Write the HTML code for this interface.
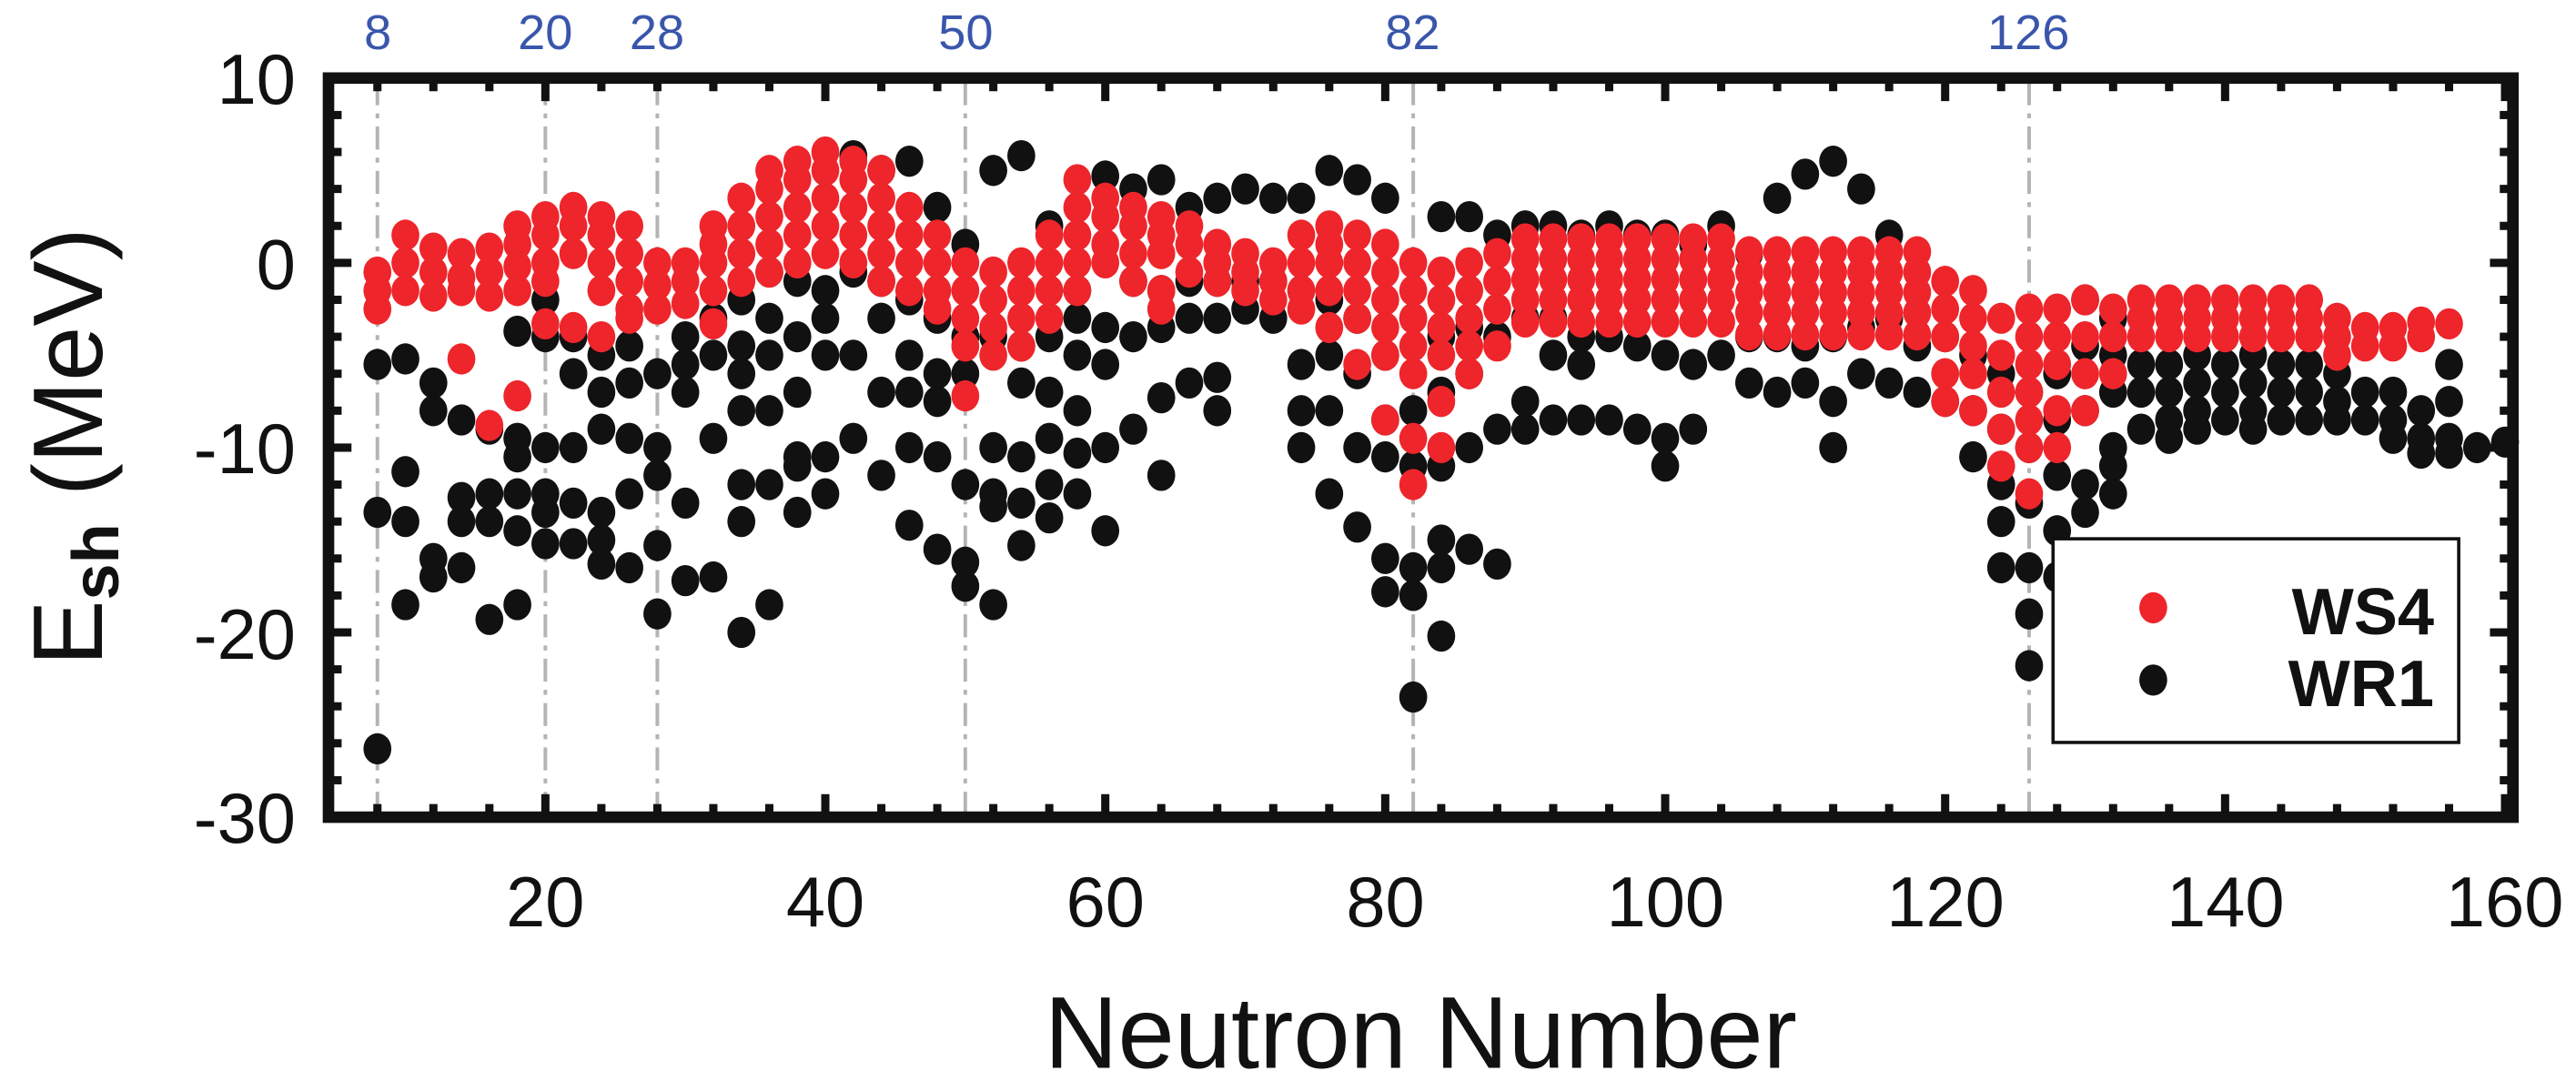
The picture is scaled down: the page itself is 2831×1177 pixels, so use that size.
<!DOCTYPE html>
<html><head><meta charset="utf-8"><style>
html,body{margin:0;padding:0;background:#fff;}
svg{display:block;}
text{font-family:"Liberation Sans",Arial,sans-serif;}
</style></head><body>
<svg id="s" width="2831" height="1177" viewBox="0 0 1568.4 652" xmlns="http://www.w3.org/2000/svg">
<rect width="1568.4" height="652" fill="#fff"/>
<g id="grid" stroke="#b4b4b4" stroke-width="2.2" stroke-dasharray="14,5,3,5"></g>
<g id="blk" fill="#111"></g>
<g id="red" fill="#ee252b"></g>
<g id="ticks" stroke="#111" stroke-width="5"></g>
<rect x="200" y="47.5" width="1330" height="450" fill="none" stroke="#111" stroke-width="7"/>
<g font-size="43" fill="#111" text-anchor="end">
<text x="180" y="63">10</text><text x="180" y="176">0</text><text x="180" y="288">-10</text><text x="180" y="401">-20</text><text x="180" y="513">-30</text>
</g>
<g font-size="43" fill="#111" text-anchor="middle">
<text x="332" y="564">20</text><text x="502.5" y="564">40</text><text x="673" y="564">60</text><text x="843.5" y="564">80</text><text x="1014" y="564">100</text><text x="1184.5" y="564">120</text><text x="1355" y="564">140</text><text x="1525" y="564">160</text>
</g>
<g font-size="30" fill="#3a56ab" text-anchor="middle">
<text x="230" y="30">8</text><text x="332" y="30">20</text><text x="400" y="30">28</text><text x="588" y="30">50</text><text x="860" y="30">82</text><text x="1235" y="30">126</text>
</g>
<text x="865" y="650" font-size="62" fill="#111" text-anchor="middle">Neutron Number</text>
<text transform="translate(62,272) rotate(-90)" font-size="60" fill="#111" text-anchor="middle">E<tspan font-size="40" dy="10" font-weight="bold">sh</tspan><tspan dy="-10"> (MeV)</tspan></text>
<rect x="1250" y="328" width="247" height="124" fill="#fff" stroke="#111" stroke-width="2"/>
<ellipse cx="1311" cy="370" rx="8.5" ry="9.5" fill="#ee252b"/>
<ellipse cx="1311" cy="414" rx="8.5" ry="9.5" fill="#111"/>
<text x="1482" y="386" font-size="40" font-weight="bold" fill="#111" text-anchor="end">WS4</text>
<text x="1482" y="430" font-size="40" font-weight="bold" fill="#111" text-anchor="end">WR1</text>
</svg>
<script>
var NS="http://www.w3.org/2000/svg";
function X(n){return 161.6+n*8.5225;}
function Y(v){return 160-v*11.25;}
function el(g,t,a){var e=document.createElementNS(NS,t);for(var k in a)e.setAttribute(k,a[k]);document.getElementById(g).appendChild(e);}
[8,20,28,50,82,126].forEach(function(n){el("grid","line",{x1:X(n),x2:X(n),y1:50,y2:495});});
for(var n=8;n<=160;n+=4){var L=(n%20==0)?14:8;el("ticks","line",{x1:X(n),x2:X(n),y1:497.5,y2:497.5-L});el("ticks","line",{x1:X(n),x2:X(n),y1:47.5,y2:47.5+L});}
for(var v=-28;v<=8;v+=2){var L=(v%10==0)?14:8;el("ticks","line",{x1:200,x2:200+L,y1:Y(v),y2:Y(v)});el("ticks","line",{x1:1530,x2:1530-L,y1:Y(v),y2:Y(v)});}
var B={8:[-5.5,-13.5,-26.3],10:[-5.2,-11.3,-14,-18.5],12:[-6.5,-8,-16,-17],14:[-8.5,-12.7,-14,-16.5],16:[-9,-12.5,-14,-19.3],18:[-3.7,-9.5,-10.5,-12.5,-14.5,-18.5],20:[-2,-4,-10,-12.5,-13.5,-15.2],22:[-4,-6,-10,-13,-15.2],24:[-5,-7,-9,-13.5,-15,-16.3],26:[-4.5,-6.5,-9.5,-12.5,-16.5],28:[-6,-10,-11.5,-15.3,-19],30:[-4,-5.5,-7,-13,-17.2],32:[-3,-5,-9.5,-17],34:[-2,-4.5,-6,-8,-12,-14,-20],36:[-0.5,-3,-5,-8,-12,-18.5],38:[-1,-4,-7,-10.5,-11,-13.5],40:[-1.5,-3,-5,-10.5,-12.5],42:[5.8,-0.5,-5,-9.5],44:[5,-1,-3,-7,-11.5],46:[5.5,-2,-5,-7,-10,-14.2],48:[3,-3,-6,-7.5,-10.5,-15.5],50:[1,-4,-6,-12,-16.2,-17.5],52:[5,-4,-10,-12.5,-13.2,-18.5],54:[5.8,-4.5,-6.5,-10.5,-13,-15.3],56:[2,-4,-7,-9.5,-12,-13.8],58:[-1.5,-3,-5,-8,-10.3,-12.5],60:[4.7,-3.5,-5.5,-10,-14.5],62:[4,-1,-4,-9],64:[4.5,-1.5,-3.5,-7.3,-11.5],66:[3,-1,-3,-6.5],68:[3.5,-1,-3,-6.2,-8],70:[4,-1,-2.5],72:[3.5,-1,-3],74:[3.5,-1.5,-5.5,-8,-10],76:[5,-2,-5,-8,-12.5],78:[4.5,-3,-6,-10,-14.3],80:[3.5,-5,-8.5,-10.5,-16,-17.8],82:[-3,-8,-11,-16.5,-18,-23.5],84:[2.5,-4,-7,-11,-15,-16.5,-20.2],86:[2.5,-3.5,-6,-10,-15.5],88:[1.5,-4,-9,-16.3],90:[2,-3,-7.5,-9],92:[2,-3,-5,-8.5],94:[1.5,-4,-5.5,-8.5],96:[2,-4,-8.5],98:[1.5,-4.5,-9],100:[1.5,-5,-9.5,-11],102:[1,-5.5,-9],104:[2,-5],106:[0.5,-4,-6.5],108:[3.5,-4,-7],110:[4.8,-4.5,-6.5],112:[5.5,-4,-7.5,-10],114:[4,-3.5,-6],116:[1.5,-3,-6.5],118:[-4.5,-7],120:[-4,-7.5],122:[-5,-8,-10.5],124:[-6,-9,-12,-14,-16.5],126:[-7,-10,-13,-16.5,-19,-21.8],128:[-6,-8.5,-11.5,-14.5,-17],130:[-2,-4.5,-8,-12,-13.5],132:[-3,-5,-7,-10,-11,-12.5],134:[-5.5,-7,-9],136:[-5.5,-7,-8.5,-9.5],138:[-5,-6.5,-8,-9],140:[-5.5,-7,-8.5],142:[-5,-6.5,-8,-9],144:[-5.5,-7,-8.5],146:[-5.5,-7,-8.5],148:[-6,-7.5,-8.5],150:[-7,-8.5],152:[-7,-8.5,-9.5],154:[-8,-9.5,-10.3],156:[-5.5,-7.5,-9.5,-10.3],158:[-10],160:[-9.7]};
var R={8:[-0.5,-1.5,-2.5],10:[1.5,0,-1.5],12:[0.8,-0.5,-1.8],14:[0.5,-0.8,-1.5,-5.2],16:[0.8,-0.5,-1.8,-8.8],18:[2,1,-0.2,-1.5,-7.2],20:[2.5,1.5,0,-1,-3.3],22:[3,2,0.5,-3.5],24:[2.5,1.5,0,-1.5,-4],26:[2,0.5,-1,-2.5,-3],28:[0,-1.2,-2.5],30:[0,-1,-2.2],32:[2,1,0,-1.5,-3.3],34:[3.5,2,0.5,-1],36:[5,4,2.5,1,-0.5],38:[5.5,4.5,3,1.5,0],40:[6,5,3.5,2,0.5],42:[5.5,4.5,3,1.5,0],44:[5,3.5,2,0.5,-1],46:[3,1.5,0,-1.5],48:[1.5,0,-1.5,-2.5],50:[0,-1.5,-3,-4.5,-7.2],52:[-0.5,-2,-3.5,-5],54:[0,-1.5,-3,-4.5],56:[1.5,0,-1.5,-3],58:[4.5,3,1.5,0,-1.5],60:[3.5,2.5,1,0],62:[3,2,0.5,-1],64:[2.5,1.5,0.5,-1.5,-2.5],66:[2,1,-0.5],68:[1,0,-1],70:[0.5,-0.5,-1.5],72:[0,-1,-2],74:[1.5,0,-1.5,-2.5],76:[2,1,0,-1.5,-3.5],78:[1.5,0,-1.5,-3,-5.5],80:[1,-0.5,-2,-3.5,-5,-8.5],82:[0,-1.5,-3,-4.5,-6,-9.5,-12],84:[-0.5,-2,-3.5,-5,-7.5,-10],86:[0,-1.5,-3,-4.5,-6],88:[0.5,-1,-2.5,-4.5],120:[-1,-2.5,-4,-6,-7.5],122:[-1.5,-3,-4.5,-6,-8],124:[-3,-5,-7,-9,-11],126:[-2.5,-4,-5.5,-7,-8.5,-10,-12.5],128:[-2.5,-4,-5.5,-8,-10],130:[-2,-4,-6,-8],132:[-2.5,-4,-6],148:[-3,-4,-5],150:[-3.5,-4.5],152:[-3.5,-4.5],154:[-3.2,-4],156:[-3.3]};
for(var n=90;n<=118;n+=2){var t=n<=104?1.3:0.6;R[n]=[t,t-1.1,t-2.2,t-3.3,t-4.5];}
for(var n=134;n<=146;n+=2){R[n]=[-2,-3,-4];}
for(var k in B)B[k].forEach(function(v){el("blk","ellipse",{cx:X(+k),cy:Y(v),rx:8.5,ry:9.5});});
for(var k in R)R[k].forEach(function(v){el("red","ellipse",{cx:X(+k),cy:Y(v),rx:8.5,ry:9.5});});
</script>
</body></html>
